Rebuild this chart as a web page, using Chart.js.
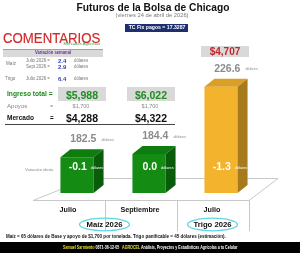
<!DOCTYPE html>
<html>
<head>
<meta charset="utf-8">
<script src="https://cdn.jsdelivr.net/npm/chart.js@4.4.0/dist/chart.umd.min.js"></script>
<style>
html, body { margin: 0; padding: 0; background: #fff; }
#wrap { position: relative; width: 300px; height: 253px; overflow: hidden; font-family: 'Liberation Sans', Arial, sans-serif; }
#c { position: absolute; left: 0; top: 0; }
.t { position: absolute; white-space: nowrap; line-height: 1; }
.box { position: absolute; }
</style>
</head>
<body>
<div id="wrap"><canvas id="c" width="300" height="253"></canvas></div>
<script>
// datos del cuadro
const meses = ['Julio', 'Septiembre', 'Julio'];
const precios = [182.5, 184.4, 226.6];
const variacionDiaria = [-0.1, 0.0, -1.3];
const ingresoTotal = [5988, 6022, 4707];
const apoyos = [1700, 1700];
const mercado = [4288, 4322];
const varSemanalMaiz = [2.4, 2.9];
const varSemanalTrigo = [6.4];
const tcFix = 17.3287;

const wrap = document.getElementById('wrap');
const money = v => '$' + v.toLocaleString('en-US');

function box(x, y, w, h, css) {
  const d = document.createElement('div');
  d.className = 'box';
  d.style.cssText = 'left:' + x + 'px;top:' + y + 'px;width:' + w + 'px;height:' + h + 'px;' + (css || '');
  wrap.appendChild(d);
  return d;
}

// x,y = punto de anclaje (y es el centro vertical); align l/c/r; w = ancho forzado
function txt(x, y, s, css, align, w, html) {
  const d = document.createElement('div');
  d.className = 't';
  if (html) d.innerHTML = s; else d.textContent = s;
  d.style.cssText = css || '';
  d.style.left = x + 'px';
  d.style.top = y + 'px';
  const tx = align === 'c' ? '-50%' : align === 'r' ? '-100%' : '0';
  d.style.transformOrigin = align === 'c' ? 'center' : align === 'r' ? 'right center' : 'left center';
  wrap.appendChild(d);
  let tr = 'translate(' + tx + ',-50%)';
  if (w) tr += ' scaleX(' + (w / d.offsetWidth) + ')';
  d.style.transform = tr;
  return d;
}

// encabezado
txt(152.5, 7.5, 'Futuros de la Bolsa de Chicago', 'font-weight:bold;font-size:10.3px;color:#111;', 'c', 153);
txt(151.5, 16, '(viernes 24 de abril de 2026)', 'font-size:5.5px;color:#777;', 'c', 73);
box(125, 23.5, 63, 8, 'background:#1d2f6e;');
txt(156.5, 27.5, 'TC Fix pagos = ' + tcFix, 'font-weight:bold;font-size:5.5px;color:#fff;', 'c', 57);

txt(3, 37.5, 'COMENTARIOS', 'font-size:15.4px;color:#d22b2b;-webkit-text-stroke:0.2px #d22b2b;', 'l', 97);
txt(100, 45.3, 'Mercados Agrícolas', 'font-size:3.6px;color:#3a9a3a;', 'r', 37);

box(3, 48.5, 100, 7, 'background:#d9d9d9;border-top:1px solid #a0a0a0;');
txt(53, 52.5, 'Variación semanal', 'font-weight:bold;font-size:5.2px;color:#7030a0;', 'c', 36);

// variación semanal
const gris = 'font-size:4.6px;color:#777;';
const azul = 'font-weight:bold;font-size:6px;color:#2f3fc0;';
txt(6, 64, 'Maíz', gris, 'l');
txt(26, 61, 'Julio 2026 =', gris, 'l', 24);
txt(26, 67, 'Sept 2026 =', gris, 'l', 24);
txt(58, 61, varSemanalMaiz[0].toFixed(1), azul, 'l');
txt(58, 67, varSemanalMaiz[1].toFixed(1), azul, 'l');
txt(74, 61, 'dólares', gris, 'l', 14);
txt(74, 67, 'dólares', gris, 'l', 14);
txt(5, 79, 'Trigo', gris, 'l');
txt(26, 79, 'Julio 2026 =', gris, 'l', 24);
txt(58, 79, varSemanalTrigo[0].toFixed(1), azul, 'l');
txt(74, 79, 'dólares', gris, 'l', 14);

// ingreso / apoyos / mercado
txt(7, 94, 'Ingreso total =', 'font-weight:bold;font-size:6.5px;color:#1b8a1b;', 'l', 46);
const colX = [82, 151];
box(58, 87, 48, 14, 'background:#d9d9d9;');
box(127, 87, 48, 14, 'background:#d9d9d9;');
colX.forEach((x, i) => {
  txt(x, 94.5, money(ingresoTotal[i]), 'font-weight:bold;font-size:10.5px;color:#1e8e1e;', 'c');
  txt(x - 1, 107, money(apoyos[i]), 'font-size:5.5px;color:#888;', 'c');
  txt(x, 118, money(mercado[i]), 'font-weight:bold;font-size:10.5px;color:#111;', 'c');
});
txt(7, 107, 'Apoyos', 'font-size:5.5px;color:#888;', 'l', 20);
txt(50, 107, '=', 'font-size:5.5px;color:#888;', 'l');
txt(7, 118, 'Mercado', 'font-weight:bold;font-size:6.3px;color:#111;', 'l', 27);
txt(50, 118, '=', 'font-weight:bold;font-size:6.3px;color:#111;', 'l');
box(5, 123.5, 170, 1, 'background:#444;');

box(201, 46, 48, 11, 'background:#d9d9d9;');
txt(225, 51.5, money(ingresoTotal[2]), 'font-weight:bold;font-size:10px;color:#c0282d;', 'c');

txt(25, 170, 'Variación diaria', 'font-size:4.3px;color:#888;', 'l', 28);

// pie
txt(6, 236.5, 'Maíz = 65 dólares de Base y apoyo de $1,700 por tonelada. Trigo panificable = 45 dólares (estimación).',
  'font-weight:bold;font-size:4.6px;color:#111;', 'l', 220);
box(0, 242, 300, 11, 'background:#000;');
txt(63, 247.5, '<span style="color:#e6e030">Samuel Sarmiento</span> <span style="color:#fff">0871-36-12-05</span> &nbsp; <span style="color:#e6e030">AGROCEL</span> <span style="color:#fff">Análisis, Proyectos y Estadísticas Agrícolas a tu Celular</span>',
  'font-weight:bold;font-size:5.2px;', 'l', 174, true);

// barras 3D
const frente = ['#148c14', '#148c14', '#f3b32c'];
const arriba = ['#0f7c0f', '#0f7c0f', '#d99f26'];
const lado = ['#0a5c0a', '#0a5c0a', '#a87a1e'];
const dx = 10, dy = 8;
const font = (w, s) => w + ' ' + s + "px 'Liberation Sans', Arial, sans-serif";

const cubo = {
  id: 'cubo',
  beforeDatasetsDraw(chart) {
    const ctx = chart.ctx;
    const xs = chart.scales.x;
    const base = chart.chartArea.bottom;
    const x0 = xs.getPixelForValue(0) - 8 - 36;
    const x1 = xs.getPixelForValue(2) - 8 + 36;
    ctx.save();
    ctx.strokeStyle = '#c8c8c8';
    ctx.lineWidth = 1;
    ctx.beginPath();
    ctx.moveTo(x0, base + 7.5);
    ctx.lineTo(x0 + 55, base - 14.5);
    ctx.lineTo(x1 + 29, base - 14.5);
    ctx.lineTo(x1, base + 7.5);
    ctx.closePath();
    ctx.stroke();
    for (let i = 0; i < 3; i++) {
      const x = Math.round(xs.getPixelForValue(i) - 8 + 36) + 0.5;
      ctx.beginPath();
      ctx.moveTo(x, base + 7.5);
      ctx.lineTo(x, base + 38);
      ctx.stroke();
    }
    ctx.restore();
  },
  afterDatasetsDraw(chart) {
    const ctx = chart.ctx;
    const meta = chart.getDatasetMeta(0);
    const b = chart.chartArea.bottom;
    ctx.save();
    meta.data.forEach((bar, i) => {
      const L = bar.x - bar.width / 2, R = bar.x + bar.width / 2;
      const y = bar.y;
      ctx.fillStyle = arriba[i];
      ctx.beginPath();
      ctx.moveTo(L, y); ctx.lineTo(L + dx, y - dy); ctx.lineTo(R + dx, y - dy); ctx.lineTo(R, y);
      ctx.closePath(); ctx.fill();
      ctx.fillStyle = lado[i];
      ctx.beginPath();
      ctx.moveTo(R, y); ctx.lineTo(R + dx, y - dy); ctx.lineTo(R + dx, b - dy); ctx.lineTo(R, b);
      ctx.closePath(); ctx.fill();

      // precio sobre la barra
      ctx.textBaseline = 'middle';
      ctx.textAlign = 'left';
      const p = precios[i].toFixed(1);
      ctx.font = font('bold', 10.5);
      const wp = ctx.measureText(p).width;
      ctx.font = font('normal', 3.8);
      const wd = ctx.measureText('dólares').width;
      let sx = bar.x + 15 - (wp + 5 + wd) / 2;
      ctx.fillStyle = '#8c8c8c';
      ctx.font = font('bold', 10.5);
      ctx.fillText(p, sx, y - dy - 10);
      ctx.font = font('normal', 3.8);
      ctx.fillText('dólares', sx + wp + 5, y - dy - 9.5);

      // variación diaria dentro de la barra
      const v = variacionDiaria[i].toFixed(1);
      ctx.font = font('bold', 10.5);
      const wv = ctx.measureText(v).width;
      sx = bar.x + 9 - (wv + 4 + wd) / 2;
      ctx.fillStyle = '#fff';
      ctx.fillText(v, sx, b - 26);
      ctx.font = font('normal', 3.8);
      ctx.fillText('dólares', sx + wv + 4, b - 25.5);

      // mes
      ctx.fillStyle = '#111';
      ctx.textAlign = 'center';
      ctx.font = font('bold', 7.2);
      ctx.fillText(meses[i], bar.x - 9, b + 17.5);
    });

    // grupos
    const g = [[(meta.data[0].x + meta.data[1].x) / 2 - 9, 'Maíz 2026'], [meta.data[2].x - 9, 'Trigo 2026']];
    g.forEach(([x, s]) => {
      ctx.strokeStyle = '#5fd6e2';
      ctx.lineWidth = 1.3;
      ctx.beginPath();
      ctx.ellipse(x + 0.5, b + 31.5, 25, 6.3, 0, 0, Math.PI * 2);
      ctx.stroke();
      ctx.fillStyle = '#111';
      ctx.font = font('bold', 7.7);
      ctx.fillText(s, x + 0.5, b + 31.5);
    });
    ctx.restore();
  }
};

new Chart(document.getElementById('c'), {
  type: 'bar',
  data: {
    labels: meses,
    datasets: [{
      data: precios,
      base: 160,
      backgroundColor: frente,
      borderWidth: 0,
      barPercentage: 0.46,
      categoryPercentage: 1
    }]
  },
  options: {
    responsive: false,
    animation: false,
    layout: { padding: { left: 41, right: 43, top: 40, bottom: 60 } },
    plugins: { legend: { display: false }, tooltip: { enabled: false } },
    scales: {
      x: { display: false },
      y: { display: false, min: 160, max: 256 }
    }
  },
  plugins: [cubo]
});
</script>
</body>
</html>
